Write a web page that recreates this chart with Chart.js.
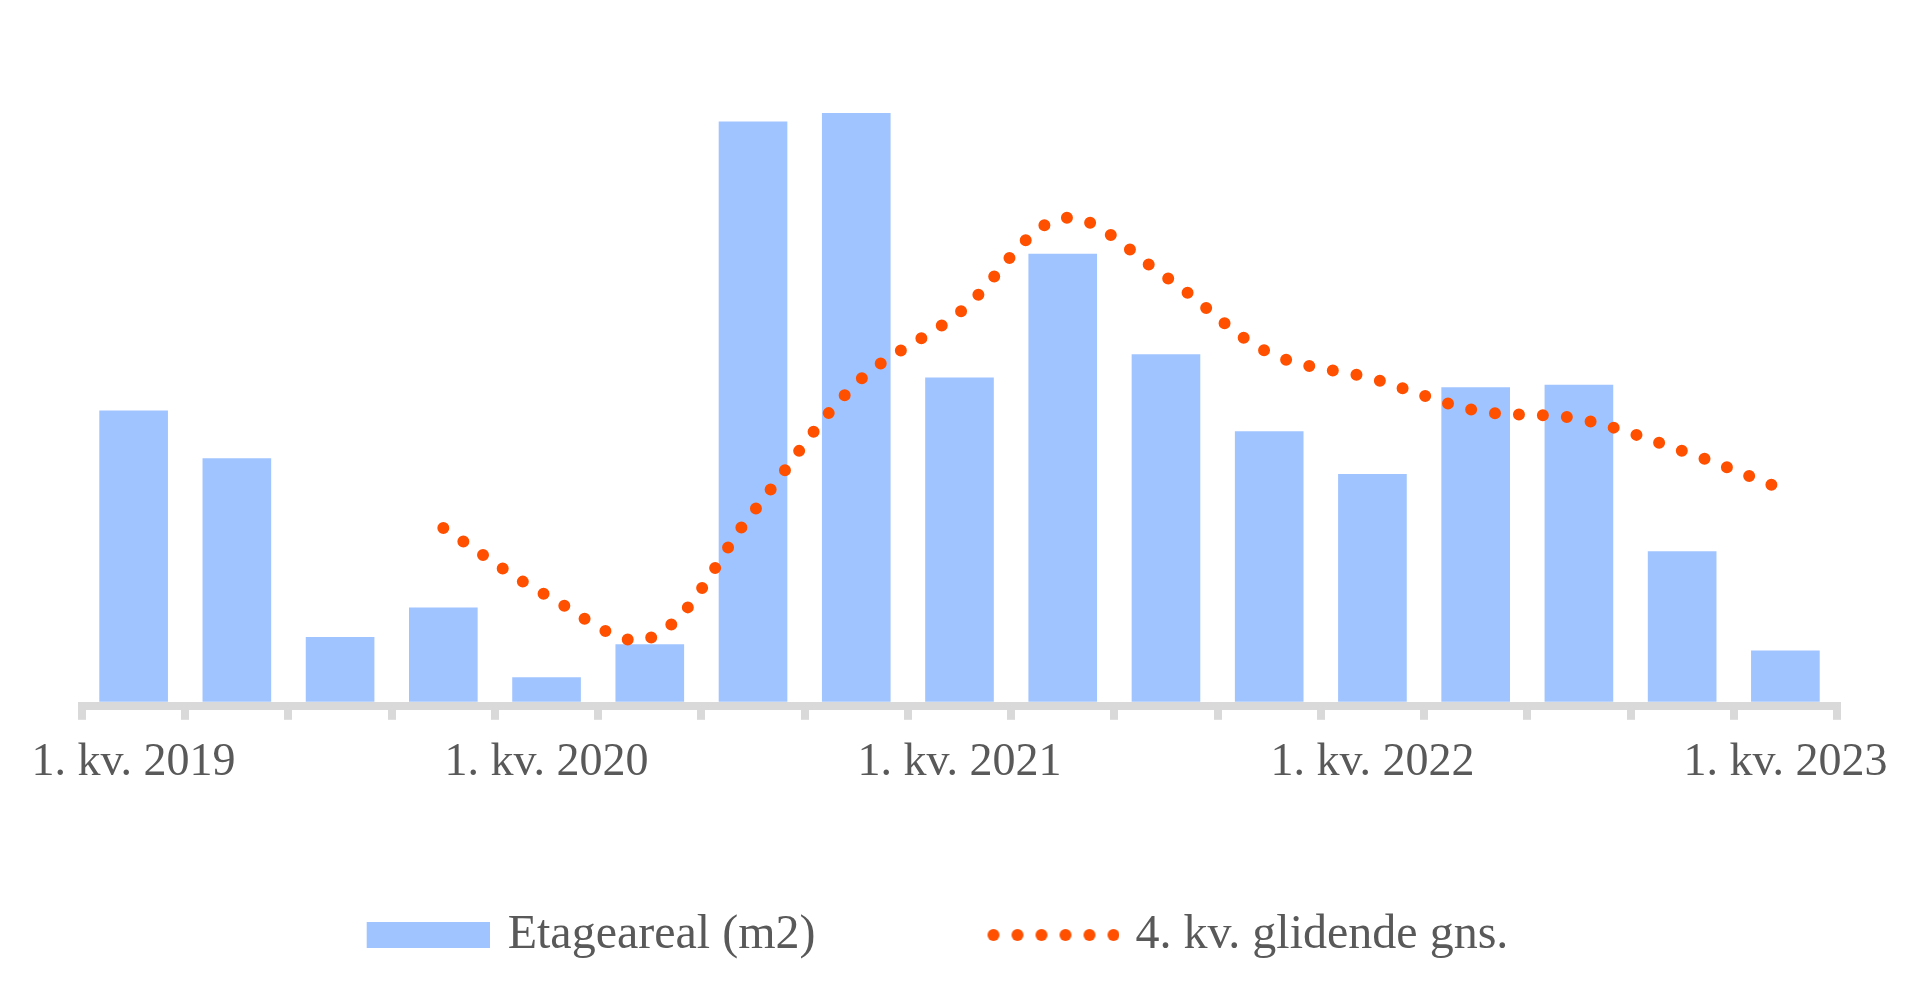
<!DOCTYPE html>
<html>
<head>
<meta charset="utf-8">
<script src="https://cdn.jsdelivr.net/npm/chart.js@4/dist/chart.umd.min.js"></script>
<style>
  html, body { margin: 0; padding: 0; background: #fff; }
  #wrap { width: 1920px; height: 996px; position: relative; }
</style>
</head>
<body>
<div id="wrap"><canvas id="chart"></canvas></div>
<script>
// Quarters Q1 2019 - Q1 2023
const quarters = [
  '1. kv. 2019', '2. kv. 2019', '3. kv. 2019', '4. kv. 2019',
  '1. kv. 2020', '2. kv. 2020', '3. kv. 2020', '4. kv. 2020',
  '1. kv. 2021', '2. kv. 2021', '3. kv. 2021', '4. kv. 2021',
  '1. kv. 2022', '2. kv. 2022', '3. kv. 2022', '4. kv. 2022',
  '1. kv. 2023'
];

// Floor area per quarter (m2)
const floorArea = [
  23800, 19900, 5300, 7700, 2000, 4700, 47400, 48100,
  26500, 36600, 28400, 22100, 18600, 25700, 25900, 12300, 4200
];

// 4-quarter moving average
const movingAvg = [
  null, null, null, 14200, 8700, 5200, 15500, 26000,
  31800, 39500, 34700, 28500, 26400, 23800, 23100, 20500, 17300
];

const seriesNames = ['Etageareal (m2)', '4. kv. glidende gns.'];

const barColor = '#a0c4ff';
const lineColor = '#ff5000';
const textColor = '#595959';
const axisColor = '#d9d9d9';

const legendBox = 192;

function makeBarSwatch() {
  const c = document.createElement('canvas');
  c.width = legendBox + 12;
  c.height = 26;
  const g = c.getContext('2d');
  g.fillStyle = barColor;
  g.fillRect(c.width - 123, 0, 123, 26);
  return c;
}

function makeDotSwatch() {
  const c = document.createElement('canvas');
  c.width = legendBox + 16;
  c.height = 14;
  const g = c.getContext('2d');
  g.fillStyle = lineColor;
  for (let i = 0; i < 6; i++) {
    g.beginPath();
    g.arc(c.width - 6 - i * 24, 7, 6, 0, Math.PI * 2);
    g.fill();
  }
  return c;
}

const swatches = [makeBarSwatch(), makeDotSwatch()];

const ctx = document.getElementById('chart').getContext('2d');
new Chart(ctx, {
  data: {
    labels: quarters,
    datasets: [
      {
        type: 'line',
        label: seriesNames[1],
        data: movingAvg,
        borderColor: lineColor,
        borderWidth: 12,
        borderDash: [0, 24],
        borderCapStyle: 'round',
        pointRadius: 0,
        tension: 0.35,
        fill: false,
        order: 0
      },
      {
        type: 'bar',
        label: seriesNames[0],
        data: floorArea,
        backgroundColor: barColor,
        barPercentage: 0.665,
        categoryPercentage: 1,
        order: 1
      }
    ]
  },
  options: {
    responsive: true,
    maintainAspectRatio: false,
    animation: false,
    layout: {
      padding: { top: 60, left: -37, right: 83, bottom: 27 }
    },
    scales: {
      x: {
        grid: {
          display: true,
          drawOnChartArea: false,
          drawTicks: true,
          tickLength: 14,
          lineWidth: 8,
          color: axisColor,
          offset: true
        },
        border: { display: true, width: 8, color: axisColor },
        ticks: {
          autoSkip: false,
          maxRotation: 0,
          padding: 16,
          color: textColor,
          font: { family: 'Liberation Serif', size: 46 },
          callback: function(value, index) {
            return index % 4 === 0 ? quarters[index] : '';
          }
        }
      },
      y: {
        display: true,
        min: -327,
        max: 52430,
        grid: { display: false },
        border: { display: false },
        ticks: { display: false },
        afterFit: function(scale) { scale.width = 119; }
      }
    },
    plugins: {
      tooltip: { enabled: false },
      legend: {
        position: 'bottom',
        labels: {
          usePointStyle: true,
          pointStyleWidth: legendBox,
          padding: 104,
          color: textColor,
          font: { family: 'Liberation Serif', size: 48 },
          generateLabels: function() {
            return seriesNames.map((name, i) => ({
              text: name,
              pointStyle: swatches[i],
              fillStyle: i === 0 ? barColor : lineColor,
              strokeStyle: 'transparent',
              fontColor: textColor,
              lineWidth: 0,
              hidden: false,
              datasetIndex: i === 0 ? 1 : 0
            }));
          }
        }
      }
    }
  }
});
</script>
</body>
</html>
